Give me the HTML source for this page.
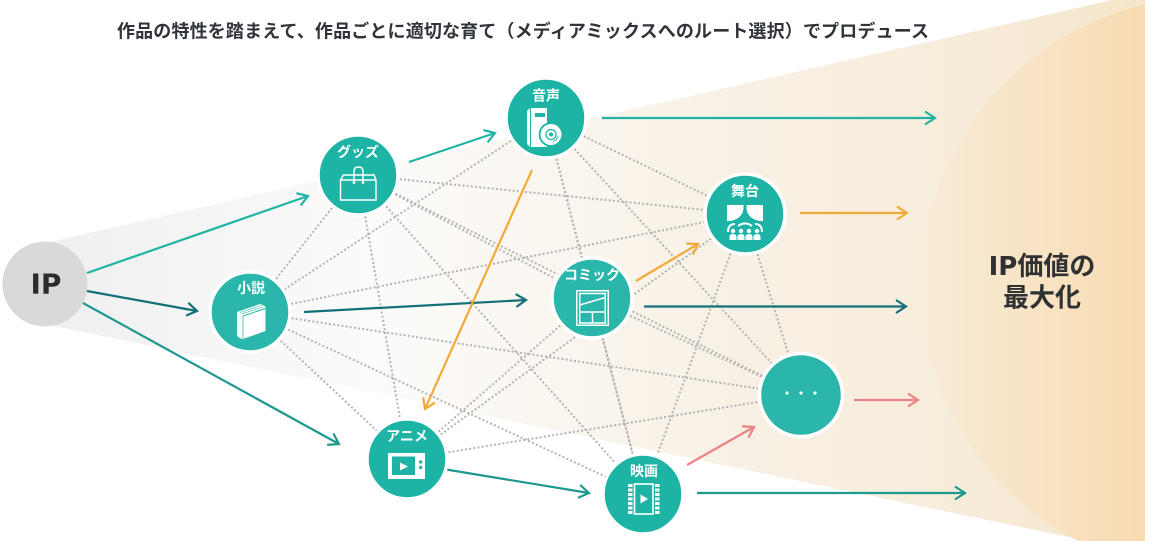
<!DOCTYPE html>
<html><head><meta charset="utf-8">
<style>
html,body{margin:0;padding:0;background:#fff;width:1150px;height:541px;overflow:hidden;}
svg{display:block;}
text{font-family:"Liberation Sans","Noto Sans CJK JP",sans-serif;font-weight:700;}
</style></head><body>
<svg width="1150" height="541" viewBox="0 0 1150 541" xmlns="http://www.w3.org/2000/svg">
<defs>
<linearGradient id="cone" gradientUnits="userSpaceOnUse" x1="45" y1="0" x2="1145" y2="0">
 <stop offset="0" stop-color="#efefef"/>
 <stop offset="0.15" stop-color="#f5f5f5"/>
 <stop offset="0.3" stop-color="#fcfbfa"/>
 <stop offset="0.6" stop-color="#f8f1e6"/>
 <stop offset="0.85" stop-color="#f7ecd9"/>
 <stop offset="1" stop-color="#f6e6cb"/>
</linearGradient>
<linearGradient id="ell" gradientUnits="userSpaceOnUse" x1="920" y1="0" x2="1145" y2="0">
 <stop offset="0" stop-color="#f9ecd9"/>
 <stop offset="1" stop-color="#f7dbb1"/>
</linearGradient>
<marker id="mT" viewBox="-13 -9 15 18" refX="0" refY="0" markerWidth="15" markerHeight="18" markerUnits="userSpaceOnUse" orient="auto"><path d="M-10,-6.5 L0,0 L-10,6.5" fill="none" stroke="#20b4a5" stroke-width="2.2"/></marker>
<marker id="mD" viewBox="-13 -9 15 18" refX="0" refY="0" markerWidth="15" markerHeight="18" markerUnits="userSpaceOnUse" orient="auto"><path d="M-10,-6.5 L0,0 L-10,6.5" fill="none" stroke="#13707a" stroke-width="2.2"/></marker>
<marker id="mM" viewBox="-13 -9 15 18" refX="0" refY="0" markerWidth="15" markerHeight="18" markerUnits="userSpaceOnUse" orient="auto"><path d="M-10,-6.5 L0,0 L-10,6.5" fill="none" stroke="#1e9990" stroke-width="2.2"/></marker>
<marker id="mO" viewBox="-13 -9 15 18" refX="0" refY="0" markerWidth="15" markerHeight="18" markerUnits="userSpaceOnUse" orient="auto"><path d="M-10,-6.5 L0,0 L-10,6.5" fill="none" stroke="#f1a93a" stroke-width="2.2"/></marker>
<marker id="mP" viewBox="-13 -9 15 18" refX="0" refY="0" markerWidth="15" markerHeight="18" markerUnits="userSpaceOnUse" orient="auto"><path d="M-10,-6.5 L0,0 L-10,6.5" fill="none" stroke="#ec8282" stroke-width="2.2"/></marker>
</defs>

<!-- background cone -->
<polygon points="45,243 1112,0 1145,0 1145,541 1088,541 45,324" fill="url(#cone)"/>
<path d="M1145,4 A298,290 0 0 0 1078,541 L1145,541 Z" fill="url(#ell)"/>

<!-- title -->
<text x="117" y="37.5" font-size="18" fill="#30343a" textLength="812" lengthAdjust="spacing">作品の特性を踏まえて、作品ごとに適切な育て（メディアミックスへのルート選択）でプロデュース</text>

<!-- dotted lines -->
<g stroke="#b3b3b3" stroke-width="2" stroke-dasharray="2 2.2" fill="none">
<line x1="358" y1="175" x2="250" y2="312"/>
<line x1="358" y1="175" x2="592" y2="298"/>
<line x1="358" y1="175" x2="745" y2="214"/>
<line x1="358" y1="175" x2="407" y2="459"/>
<line x1="358" y1="175" x2="643" y2="494"/>
<line x1="358" y1="175" x2="801" y2="395"/>
<line x1="546" y1="118" x2="250" y2="312"/>
<line x1="546" y1="118" x2="592" y2="298"/>
<line x1="546" y1="118" x2="745" y2="214"/>
<line x1="546" y1="118" x2="643" y2="494"/>
<line x1="546" y1="118" x2="801" y2="395"/>
<line x1="250" y1="312" x2="745" y2="214"/>
<line x1="250" y1="312" x2="407" y2="459"/>
<line x1="250" y1="312" x2="643" y2="494"/>
<line x1="250" y1="312" x2="801" y2="395"/>
<line x1="592" y1="298" x2="407" y2="459"/>
<line x1="592" y1="298" x2="643" y2="494"/>
<line x1="592" y1="298" x2="801" y2="395"/>
<line x1="745" y1="214" x2="407" y2="459"/>
<line x1="745" y1="214" x2="643" y2="494"/>
<line x1="745" y1="214" x2="801" y2="395"/>
<line x1="407" y1="459" x2="801" y2="395"/>
</g>

<!-- solid arrows -->
<g stroke-width="2.2" fill="none">
<line x1="87" y1="273" x2="308" y2="196" stroke="#20b4a5" marker-end="url(#mT)"/>
<line x1="409" y1="162" x2="495" y2="133" stroke="#20b4a5" marker-end="url(#mT)"/>
<line x1="602" y1="118" x2="935" y2="118" stroke="#20b4a5" marker-end="url(#mT)"/>
<line x1="87" y1="291" x2="197" y2="311" stroke="#13707a" marker-end="url(#mD)"/>
<line x1="304" y1="312" x2="526" y2="300" stroke="#13707a" marker-end="url(#mD)"/>
<line x1="644" y1="306.5" x2="906" y2="306.5" stroke="#13707a" marker-end="url(#mD)"/>
<line x1="83" y1="303" x2="339" y2="444" stroke="#1e9990" marker-end="url(#mM)"/>
<line x1="437" y1="468" x2="589" y2="493" stroke="#1e9990" marker-end="url(#mM)"/>
<line x1="697" y1="493" x2="965" y2="493" stroke="#1e9990" marker-end="url(#mM)"/>
<line x1="532" y1="170" x2="425" y2="409" stroke="#f1a93a" marker-end="url(#mO)"/>
<line x1="636" y1="281" x2="698" y2="244" stroke="#f1a93a" marker-end="url(#mO)"/>
<line x1="800" y1="213" x2="907" y2="213" stroke="#f1a93a" marker-end="url(#mO)"/>
<line x1="687" y1="465" x2="754" y2="427" stroke="#ec8282" marker-end="url(#mP)"/>
<line x1="854" y1="400" x2="918" y2="400" stroke="#ec8282" marker-end="url(#mP)"/>
</g>

<!-- IP node -->
<circle cx="45" cy="284" r="42.5" fill="#d9d9d9"/>
<text x="46" y="293.5" font-size="28" fill="#2c2c2c" text-anchor="middle" style="font-family:'DejaVu Sans',sans-serif">IP</text>

<!-- nodes -->
<g stroke="#fff" stroke-width="3.5">
<circle cx="358" cy="175" r="40" fill="#1db4a6"/>
<circle cx="546" cy="118" r="40" fill="#1db4a6"/>
<circle cx="250" cy="312" r="40" fill="#2ab6aa"/>
<circle cx="592" cy="298" r="40" fill="#2ab6aa"/>
<circle cx="745" cy="214" r="40" fill="#1db4a6"/>
<circle cx="407" cy="459" r="40" fill="#1db4a6"/>
<circle cx="643" cy="494" r="40" fill="#1db4a6"/>
<circle cx="801" cy="395" r="41.5" fill="#2bb6ab"/>
</g>

<!-- labels -->
<g fill="#fff" font-size="14" text-anchor="middle">
<text x="358" y="157">グッズ</text>
<text x="546" y="100.5">音声</text>
<text x="251" y="293">小説</text>
<text x="592" y="280">コミック</text>
<text x="745" y="196">舞台</text>
<text x="407" y="441">アニメ</text>
<text x="644" y="476">映画</text>
</g>

<!-- グッズ icon -->
<g fill="none" stroke="#fff" stroke-width="1.4">
<path d="M343.5,175 H374 L376,180 V200 H340.5 V180 Z"/>
<path d="M340.5,180 H376"/>
<path d="M354,182 V171 Q354,167 358.5,167 Q363,167 363,171 V182"/>
</g>
<circle cx="354" cy="182.5" r="1.4" fill="#fff"/>
<circle cx="363" cy="182.5" r="1.4" fill="#fff"/>

<!-- 音声 icon -->
<path d="M527,111 L530,108 L530,147 L527,144 Z" fill="#fff"/>
<rect x="531" y="108" width="16" height="39" fill="#fff"/>
<rect x="535" y="113" width="10" height="4" fill="#1db4a6"/>
<circle cx="551" cy="134.5" r="12.3" fill="#1db4a6"/>
<circle cx="551" cy="134.5" r="10.5" fill="#fff"/>
<circle cx="551" cy="134.5" r="5" fill="none" stroke="#1db4a6" stroke-width="1.2"/>
<circle cx="551" cy="134.5" r="2" fill="#1db4a6"/>
<path d="M558,136 A7.5,7.5 0 0 1 553,141.5" fill="none" stroke="#1db4a6" stroke-width="0.8"/>

<!-- 小説 icon -->
<path d="M237,312 L260,304 L265.5,306.5 L265.5,331 L243,339 Q237,338 237,334 Z" fill="#fff"/>
<path d="M243,316 L265.5,308.5" stroke="#2ab6aa" stroke-width="1"/>
<path d="M243,316 V338.5" stroke="#2ab6aa" stroke-width="0.8"/>
<path d="M240,312.5 L261,305.5 M241.5,314 L263,307" stroke="#2ab6aa" stroke-width="0.6"/>

<!-- コミック icon -->
<g fill="none" stroke="#fff" stroke-width="1.5">
<rect x="576.75" y="290.75" width="31.5" height="34.5"/>
<rect x="579.75" y="293.5" width="25.5" height="29.5"/>
<line x1="579.75" y1="305" x2="605.25" y2="297.5"/>
<line x1="579.75" y1="312" x2="605.25" y2="312"/>
<line x1="592.5" y1="312" x2="592.5" y2="323"/>
</g>

<!-- 舞台 icon -->
<path d="M727,205 H743.5 V209 Q742,219 730,221 H727 Z" fill="#fff"/>
<path d="M763,205 H746.5 V209 Q748,219 760,221 H763 Z" fill="#fff"/>
<g fill="none" stroke="#fff" stroke-width="2">
<path d="M728,232 Q728,224 735,224"/>
<path d="M762,232 Q762,224 755,224"/>
<path d="M738,226 Q745,221 752,226"/>
</g>
<g fill="#fff">
<circle cx="733" cy="231" r="2.2"/><path d="M729.5,240 V237 Q729.5,234 733,234 Q736.5,234 736.5,237 V240 Z"/>
<circle cx="741" cy="231" r="2.2"/><path d="M737.5,240 V237 Q737.5,234 741,234 Q744.5,234 744.5,237 V240 Z"/>
<circle cx="749" cy="231" r="2.2"/><path d="M745.5,240 V237 Q745.5,234 749,234 Q752.5,234 752.5,237 V240 Z"/>
<circle cx="757" cy="231" r="2.2"/><path d="M753.5,240 V237 Q753.5,234 757,234 Q760.5,234 760.5,237 V240 Z"/>
</g>

<!-- アニメ icon -->
<rect x="388" y="453" width="37" height="26" fill="#fff"/>
<rect x="392" y="456.5" width="23" height="18.5" fill="#1db4a6"/>
<path d="M400,462.5 L408,466.5 L400,470.5 Z" fill="#fff"/>
<circle cx="420.7" cy="462" r="1.7" fill="#1db4a6"/>
<circle cx="420.7" cy="467.5" r="1.7" fill="#1db4a6"/>

<!-- 映画 icon -->
<g fill="#fff">
<rect x="628" y="484" width="4.5" height="3"/>
<rect x="628" y="488.5" width="4.5" height="3"/>
<rect x="628" y="493" width="4.5" height="3"/>
<rect x="628" y="497.5" width="4.5" height="3"/>
<rect x="628" y="502" width="4.5" height="3"/>
<rect x="628" y="506.5" width="4.5" height="3"/>
<rect x="628" y="511" width="4.5" height="3"/>
<rect x="655" y="484" width="4.5" height="3"/>
<rect x="655" y="488.5" width="4.5" height="3"/>
<rect x="655" y="493" width="4.5" height="3"/>
<rect x="655" y="497.5" width="4.5" height="3"/>
<rect x="655" y="502" width="4.5" height="3"/>
<rect x="655" y="506.5" width="4.5" height="3"/>
<rect x="655" y="511" width="4.5" height="3"/>
</g>
<rect x="634.5" y="484" width="18.5" height="30" fill="none" stroke="#fff" stroke-width="1.6"/>
<path d="M640.5,494.5 L648,499 L640.5,503.5 Z" fill="#fff"/>

<!-- ... node dots -->
<circle cx="787" cy="393" r="1.6" fill="#fff"/>
<circle cx="801" cy="393" r="1.6" fill="#fff"/>
<circle cx="815" cy="393" r="1.6" fill="#fff"/>

<!-- IP価値の最大化 -->
<text x="1042" y="275" font-size="26" fill="#2f3133" text-anchor="middle"><tspan style="font-family:'DejaVu Sans',sans-serif">IP</tspan>価値の</text>
<text x="1042" y="306.5" font-size="26" fill="#2f3133" text-anchor="middle">最大化</text>
</svg>
</body></html>
